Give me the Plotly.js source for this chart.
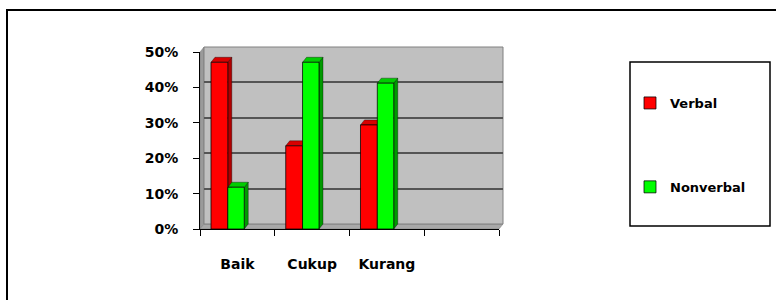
<!DOCTYPE html>
<html>
<head>
<meta charset="utf-8">
<script src="https://cdn.plot.ly/plotly-3.0.1.min.js"></script>
<style>html,body{margin:0;padding:0;background:#fff;}#chart{width:776px;height:300px;}</style>
</head>
<body>
<div id="chart"></div>
<script>
// ---- data ----
const categories = ['Baik', 'Cukup', 'Kurang'];
const slotCount = 4; // the category axis has one empty slot at the end
const seriesNames = ['Verbal', 'Nonverbal'];
const verbal = [0.471, 0.235, 0.294];
const nonverbal = [0.118, 0.471, 0.412];
const yTickVals = [0, 0.1, 0.2, 0.3, 0.4, 0.5];

// ---- geometry / style ----
const W = 776, H = 300;
const M = {l: 200, r: 273, t: 47, b: 71};
const plotW = W - M.l - M.r;   // 303
const plotH = H - M.t - M.b;   // 182
const depthX = 4, depthY = 5;  // 3D depth in pixels
const frontW = plotW - depthX, frontH = plotH - depthY;
const yMax = 0.5;
const fontFam = 'DejaVu Sans';

function px(x) { return (x - M.l) / plotW; }
function py(y) { return (H - M.b - y) / plotH; }

const slotCenters = categories.map((c, i) => i + 0.5);
const boundaries = Array.from({length: slotCount + 1}, (_, i) => i);

const seriesVals = [verbal, nonverbal];
const frontColors = ['#ff0000', '#00ff00'];
const sideColors = ['#b00000', '#009a00'];
const topColors = ['#d80000', '#00cc00'];
const barOffsets = [-0.353, -0.128];
const barWidths = [0.225, 0.22];

const dxU = depthX / (frontW / slotCount);
const dyU = depthY / (frontH / yMax);

// empty trace that registers the back-wall subplot (x, y)
const wallTrace = {type: 'scatter', mode: 'markers', x: [], y: [], xaxis: 'x', yaxis: 'y', showlegend: false, hoverinfo: 'none'};

const traces = [wallTrace].concat(seriesNames.map((name, s) => ({
  type: 'bar', name: name, legendgroup: name,
  x: slotCenters, y: seriesVals[s],
  xaxis: 'x2', yaxis: 'y2',
  offset: barOffsets[s], width: barWidths[s],
  marker: {color: frontColors[s], line: {color: 'rgba(0,0,0,0.75)', width: 1}},
  hoverinfo: 'none'
})));

const shapes = [];
// outer chart border (top and left edges visible)
shapes.push({type: 'line', xref: 'paper', yref: 'paper', x0: px(6), x1: px(776), y0: py(10), y1: py(10), line: {color: '#000', width: 2}});
shapes.push({type: 'line', xref: 'paper', yref: 'paper', x0: px(7), x1: px(7), y0: py(9), y1: py(300), line: {color: '#000', width: 2}});
// legend box
shapes.push({type: 'rect', xref: 'paper', yref: 'paper', x0: px(630), x1: px(770), y0: py(62), y1: py(226), line: {color: '#000', width: 1.5}, fillcolor: 'rgba(0,0,0,0)'});
// side wall
shapes.push({type: 'path', xref: 'paper', yref: 'paper', layer: 'below',
  path: `M ${px(200)} ${py(229)} L ${px(200)} ${py(52)} L ${px(204)} ${py(47)} L ${px(204)} ${py(224)} Z`,
  fillcolor: '#9a9a9a', line: {color: '#7a7a7a', width: 0.5}});
// floor
shapes.push({type: 'path', xref: 'paper', yref: 'paper', layer: 'below',
  path: `M ${px(200)} ${py(229)} L ${px(499)} ${py(229)} L ${px(503)} ${py(224)} L ${px(204)} ${py(224)} Z`,
  fillcolor: '#a8a8a8', line: {color: '#7a7a7a', width: 0.5}});
// back wall
shapes.push({type: 'rect', xref: 'x domain', yref: 'y domain', layer: 'below', x0: 0, x1: 1, y0: 0, y1: 1,
  fillcolor: '#c0c0c0', line: {color: '#808080', width: 1}});
// 3D faces of bars
seriesVals.forEach((vals, s) => {
  vals.forEach((v, i) => {
    const xl = slotCenters[i] + barOffsets[s];
    const xr = xl + barWidths[s];
    shapes.push({type: 'path', xref: 'x2', yref: 'y2', layer: 'between',
      path: `M ${xr} 0 L ${xr} ${v} L ${xr + dxU} ${v + dyU} L ${xr + dxU} ${dyU} Z`,
      fillcolor: sideColors[s], line: {color: 'rgba(0,0,0,0.6)', width: 0.6}});
    shapes.push({type: 'path', xref: 'x2', yref: 'y2', layer: 'between',
      path: `M ${xl} ${v} L ${xr} ${v} L ${xr + dxU} ${v + dyU} L ${xl + dxU} ${v + dyU} Z`,
      fillcolor: topColors[s], line: {color: 'rgba(0,0,0,0.6)', width: 0.6}});
  });
});

const layout = {
  width: W, height: H,
  margin: M,
  paper_bgcolor: '#ffffff', plot_bgcolor: 'rgba(0,0,0,0)',
  font: {family: fontFam, color: '#000', size: 14, weight: 'bold'},
  barmode: 'overlay',
  showlegend: true,
  legend: {
    x: px(630), y: py(88), xanchor: 'left', yanchor: 'top',
    bgcolor: 'rgba(0,0,0,0)', borderwidth: 0,
    font: {family: fontFam, size: 13, color: '#000', weight: 'bold'},
    tracegroupgap: 64, traceorder: 'grouped'
  },
  xaxis: {domain: [depthX / plotW, 1], range: [0, slotCount], anchor: 'y',
    showgrid: false, zeroline: false, showticklabels: false, ticks: '', showline: false},
  yaxis: {domain: [depthY / plotH, 1], range: [0, yMax], anchor: 'x',
    tickmode: 'array', tickvals: yTickVals, showgrid: true, gridcolor: '#555555', gridwidth: 2,
    zeroline: false, showticklabels: false, ticks: '', showline: false},
  xaxis2: {domain: [0, frontW / plotW], range: [0, slotCount], anchor: 'y2',
    tickmode: 'array', tickvals: slotCenters, ticktext: categories, ticks: '',
    showline: true, linecolor: '#000', linewidth: 1, showgrid: false, zeroline: false,
    ticklabelstandoff: 22,
    tickfont: {family: fontFam, size: 14, color: '#000', weight: 'bold'},
    minor: {tickmode: 'array', tickvals: boundaries, ticks: 'outside', ticklen: 6, tickcolor: '#000', tickwidth: 1, showgrid: false}},
  yaxis2: {domain: [0, frontH / plotH], range: [0, yMax], anchor: 'x2',
    tickmode: 'array', tickvals: yTickVals, tickformat: '.0%', ticks: 'outside', ticklen: 6, tickcolor: '#000',
    showline: true, linecolor: '#000', linewidth: 1, showgrid: false, zeroline: false,
    ticklabelstandoff: 12,
    tickfont: {family: fontFam, size: 14, color: '#000', weight: 'bold'}},
  shapes: shapes
};

Plotly.newPlot('chart', traces, layout, {staticPlot: true, displayModeBar: false});
</script>
</body>
</html>
